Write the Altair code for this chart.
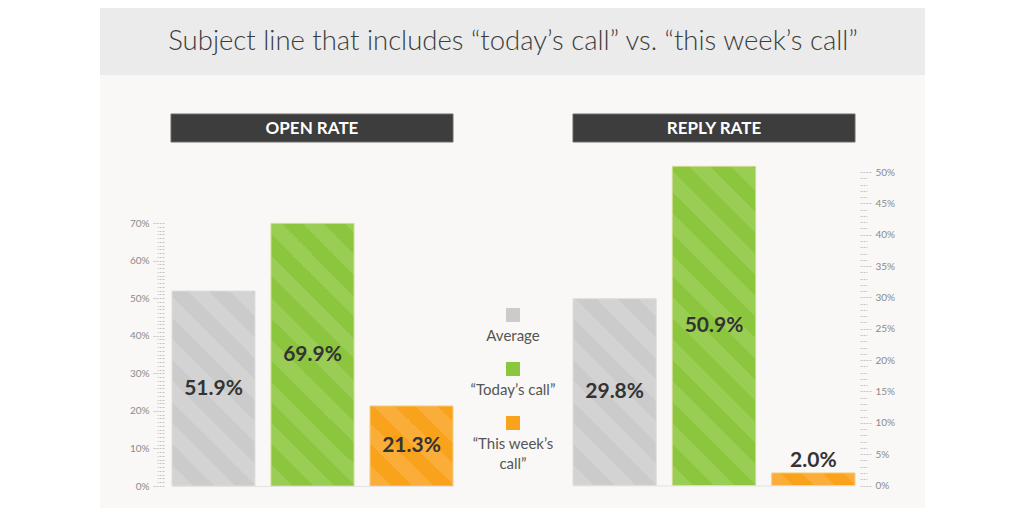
import altair as alt
import pandas as pd

# ---------------- data ----------------
categories = ["Average", "“Today’s call”", "“This week’s call”"]
legend_labels = ["Average", "“Today’s call”", "“This week’s\ncall”"]
open_rate = [51.9, 69.9, 21.3]
reply_rate = [29.8, 50.9, 2.0]
open_ticks = list(range(0, 71))
reply_ticks = list(range(0, 51))
panel_titles = ["OPEN RATE", "REPLY RATE"]
chart_title = "Subject line that includes “today’s call” vs. “this week’s call”"

# ---------------- styles ----------------
bar_colors = ["#cbcbcb", "#8cc63f", "#f9a21b"]
stripe_colors = ["#d3d3d3", "#9acd54", "#fbad3a"]
edge_colors = ["#dedede", "#cfdc8e", "#f5cf78"]
FONT = "Lato"
W, H = 1008, 500
PAD_INNER = 16 / 99


def one():
    return alt.Chart(pd.DataFrame({"d": [0]}))


def stripes(base, light, px_w, px_h, period=42.0):
    r = px_h / px_w
    a = (1 + r) / (1 + r * r)
    n = (px_w + px_h) / period
    stops = []
    k = 0
    while k / n < 1:
        t0 = k / n
        t1 = min((k + 0.5) / n, 1.0)
        t2 = min((k + 1) / n, 1.0)
        stops += [(t0, light), (t1, light), (t1, base), (t2, base)]
        k += 1
    return alt.LinearGradient(
        gradient="linear", x1=0, y1=1, x2=a, y2=1 - a * r,
        stops=[alt.GradientStop(offset=o, color=c) for o, c in stops],
    )


def group(values, ticks, dmax, xr, yr, orient, major):
    df = pd.DataFrame({"cat": categories, "v": values})
    xs = alt.Scale(domain=categories, range=xr, paddingInner=PAD_INNER, paddingOuter=0)
    ys = alt.Scale(domain=[0, dmax], range=yr, nice=False, zero=True)
    cond = f"datum.value % {major} === 0"
    yaxis = alt.Axis(
        orient=orient, offset=-156, values=ticks, title=None, domain=False, grid=False,
        labelExpr=f"{cond} ? datum.value + '%' : ''",
        tickSize={"condition": {"test": cond, "value": 12}, "value": 7},
        tickColor="#c4c4c4", tickDash=[2, 1], labelFont=FONT, labelFontSize=10,
        labelColor="#8a8a8a", labelPadding=3, labelOverlap=False, labelBound=False,
        labelFlush=False, zindex=2,
    )
    xaxis = alt.Axis(orient="bottom", offset=-(H - yr[0]), title=None, labels=False,
                     ticks=False, domain=True, domainColor="#e3e3e3", grid=False, zindex=1)
    bw = (xr[1] - xr[0]) / (3 - PAD_INNER) * (1 - PAD_INNER)
    ppu = (yr[0] - yr[1]) / dmax
    layers = []
    for i, c in enumerate(categories):
        grad = stripes(bar_colors[i], stripe_colors[i], bw, values[i] * ppu)
        layers.append(
            alt.Chart(df).transform_filter(alt.datum.cat == c)
            .mark_bar(color=grad, stroke=edge_colors[i], strokeWidth=1)
            .encode(x=alt.X("cat:N", scale=xs, axis=xaxis),
                    y=alt.Y("v:Q", scale=ys, axis=yaxis))
        )
    base = alt.Chart(df).transform_calculate(
        mid="datum.v / 2", label="format(datum.v, '.1f') + '%'"
    )
    mid_txt = base.transform_filter("datum.v >= 8").mark_text(
        font=FONT, fontSize=21, fontWeight="bold", color="#333333", baseline="middle"
    ).encode(x=alt.X("cat:N", scale=xs, axis=xaxis),
             y=alt.Y("mid:Q", scale=ys, axis=yaxis), text="label:N")
    top_txt = base.transform_filter("datum.v < 8").mark_text(
        font=FONT, fontSize=21, fontWeight="bold", color="#333333",
        baseline="alphabetic", dy=-6
    ).encode(x=alt.X("cat:N", scale=xs, axis=xaxis),
             y=alt.Y("v:Q", scale=ys, axis=yaxis), text="label:N")
    return alt.layer(*layers, mid_txt, top_txt)


# ---------------- decorations ----------------
title_band = one().mark_rect(color="#ebebeb").encode(
    x=alt.value(92), x2=alt.value(917), y=alt.value(0), y2=alt.value(67))
panel_bg = one().mark_rect(color="#f9f8f6").encode(
    x=alt.value(92), x2=alt.value(917), y=alt.value(67), y2=alt.value(H))
title_txt = one().mark_text(
    font=FONT, fontSize=27.5, fontWeight=300, color="#3c3c3c", baseline="alphabetic"
).encode(x=alt.value(505), y=alt.value(42), text=alt.value(chart_title))

headers = []
for (x0, x1), t in zip([(163, 445), (565, 847)], panel_titles):
    headers.append(one().mark_rect(color="#3d3d3d", stroke="#6a6a6a", strokeWidth=1).encode(
        x=alt.value(x0), x2=alt.value(x1), y=alt.value(106), y2=alt.value(134)))
    headers.append(one().mark_text(
        font=FONT, fontSize=17, fontWeight="bold", color="#ffffff", baseline="middle"
    ).encode(x=alt.value((x0 + x1) / 2), y=alt.value(121), text=alt.value(t)))

# ---------------- legend ----------------
leg_df = pd.DataFrame({"cat": categories, "label": legend_labels})
ly = alt.Y("cat:N", scale=alt.Scale(domain=categories, range=[307, 415], padding=0), axis=None)
leg_sq = alt.Chart(leg_df).mark_square(size=196, opacity=1).encode(
    x=alt.value(505), y=ly,
    color=alt.Color("cat:N", scale=alt.Scale(domain=categories, range=bar_colors), legend=None))
leg_txt = alt.Chart(leg_df).mark_text(
    font=FONT, fontSize=15, color="#555555", baseline="top", dy=14,
    lineBreak="\n", lineHeight=20
).encode(x=alt.value(505), y=ly, text="label:N")
legend = alt.layer(leg_sq, leg_txt)

left = group(open_rate, open_ticks, 70, [164, 445], [478, 215], "left", 10)
right = group(reply_rate, reply_ticks, 50, [565, 847], [477.5, 164], "right", 5)

chart = alt.layer(
    title_band, panel_bg, title_txt, *headers, left, legend, right
).resolve_scale(
    x="independent", y="independent", color="independent"
).resolve_axis(
    x="independent", y="independent"
).properties(
    width=W, height=H, autosize=alt.AutoSizeParams(type="none"), padding=0,
    background="white"
).configure_view(stroke=None)

chart.save("out.html", embed_options={"renderer": "svg", "actions": False})
